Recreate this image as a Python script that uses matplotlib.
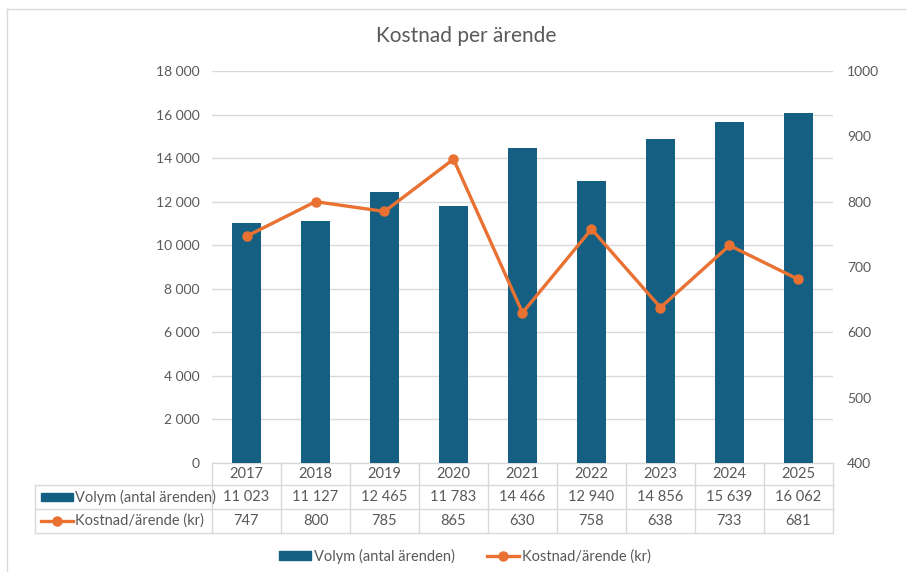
import matplotlib.pyplot as plt
from matplotlib.lines import Line2D
from matplotlib.patches import Rectangle
from matplotlib.ticker import FuncFormatter, MultipleLocator

plt.rcParams['font.family'] = ['Lato', 'DejaVu Sans']

years = ['2017', '2018', '2019', '2020', '2021', '2022', '2023', '2024', '2025']
volym = [11023, 11127, 12465, 11783, 14466, 12940, 14856, 15639, 16062]
kostnad = [747, 800, 785, 865, 630, 758, 638, 733, 681]

vol_label = 'Volym (antal ärenden)'
kost_label = 'Kostnad/ärende (kr)'

BLUE = '#156082'
ORANGE = '#E97132'
TXT = '#595959'
GRID = '#d9d9d9'


def fmt_space(v, pos=None):
    return f'{int(v):,}'.replace(',', ' ')


W, H = 906, 572
fig = plt.figure(figsize=(W / 100, H / 100), dpi=100)

# plot area in pixels
x0, x1, ytop, ybot = 212, 833, 71, 463
ax = fig.add_axes([x0 / W, 1 - ybot / H, (x1 - x0) / W, (ybot - ytop) / H])
ax2 = ax.twinx()

xs = list(range(len(years)))
ax.bar(xs, volym, width=0.42, color=BLUE, zorder=3)
ax2.plot(xs, kostnad, color=ORANGE, lw=2.4, marker='o', ms=6.5, zorder=4)

ax.set_xlim(-0.5, len(years) - 0.5)
ax.set_ylim(0, 18000)
ax2.set_ylim(400, 1000)
ax.yaxis.set_major_locator(MultipleLocator(2000))
ax2.yaxis.set_major_locator(MultipleLocator(100))
ax.yaxis.set_major_formatter(FuncFormatter(fmt_space))
ax.grid(axis='y', color=GRID, lw=1, zorder=0)
ax.set_axisbelow(True)
ax.set_xticks([])
for a in (ax, ax2):
    for s in a.spines.values():
        s.set_visible(False)
    a.tick_params(axis='y', length=0, labelsize=10, colors=TXT)
ax.tick_params(axis='y', pad=9)
ax2.tick_params(axis='y', pad=10)

# data table below the plot area
n = len(years)
pw, ph = x1 - x0, ybot - ytop
lab_w = (x0 - 35) / pw
r1 = -22 / ph
r2 = r1 - 24 / ph
r3 = r2 - 24 / ph
lkw = dict(color=GRID, lw=1, transform=ax.transAxes, clip_on=False)
ax.add_line(Line2D([0, 1], [0, 0], **lkw))
for yy in (r1, r2, r3):
    ax.add_line(Line2D([-lab_w, 1], [yy, yy], **lkw))
for j in range(n + 1):
    ax.add_line(Line2D([j / n, j / n], [0, r3], **lkw))
ax.add_line(Line2D([-lab_w, -lab_w], [r1, r3], **lkw))

tkw = dict(transform=ax.transAxes, ha='center', va='center', fontsize=10.5, color=TXT)
for j in range(n):
    cx = (j + 0.5) / n
    ax.text(cx, r1 / 2, years[j], **tkw)
    ax.text(cx, (r1 + r2) / 2, fmt_space(volym[j]), **tkw)
    ax.text(cx, (r2 + r3) / 2, str(kostnad[j]), **tkw)

# row headers with legend keys
key_x = -lab_w + 6 / pw
key_w = 32 / pw
ax.add_patch(Rectangle((key_x, (r1 + r2) / 2 - 4 / ph), key_w, 8 / ph,
                       color=BLUE, transform=ax.transAxes, clip_on=False))
ax.add_line(Line2D([key_x, key_x + key_w], [(r2 + r3) / 2] * 2, color=ORANGE, lw=2.4,
                   transform=ax.transAxes, clip_on=False))
ax.add_line(Line2D([key_x + key_w / 2], [(r2 + r3) / 2], color=ORANGE, marker='o', ms=6.5,
                   transform=ax.transAxes, clip_on=False))
hkw = dict(transform=ax.transAxes, ha='left', va='center', fontsize=10.5, color=TXT)
ax.text(key_x + key_w + 2 / pw, (r1 + r2) / 2, vol_label, **hkw)
ax.text(key_x + key_w + 2 / pw, (r2 + r3) / 2, kost_label, **hkw)

fig.text(466 / W, 1 - 36 / H, 'Kostnad per ärende', ha='center', va='center',
         fontsize=15, color=TXT)

handles = [Rectangle((0, 0), 1, 1, color=BLUE),
           Line2D([], [], color=ORANGE, lw=2.4, marker='o', ms=6.5)]
fig.legend(handles, [vol_label, kost_label], loc='center', bbox_to_anchor=(465 / W, 1 - 556 / H),
           ncol=2, frameon=False, fontsize=10.5, labelcolor=TXT, handlelength=2.2,
           handleheight=0.6, handletextpad=0.2, columnspacing=2.2)

# outer chart frame (left and top edges visible)
fig.add_artist(Line2D([7 / W, 7 / W], [0, 1 - 9 / H], color=GRID, lw=1, transform=fig.transFigure))
fig.add_artist(Line2D([7 / W, 1], [1 - 9 / H, 1 - 9 / H], color=GRID, lw=1, transform=fig.transFigure))

fig.savefig('out.png', dpi=100, facecolor='white')
